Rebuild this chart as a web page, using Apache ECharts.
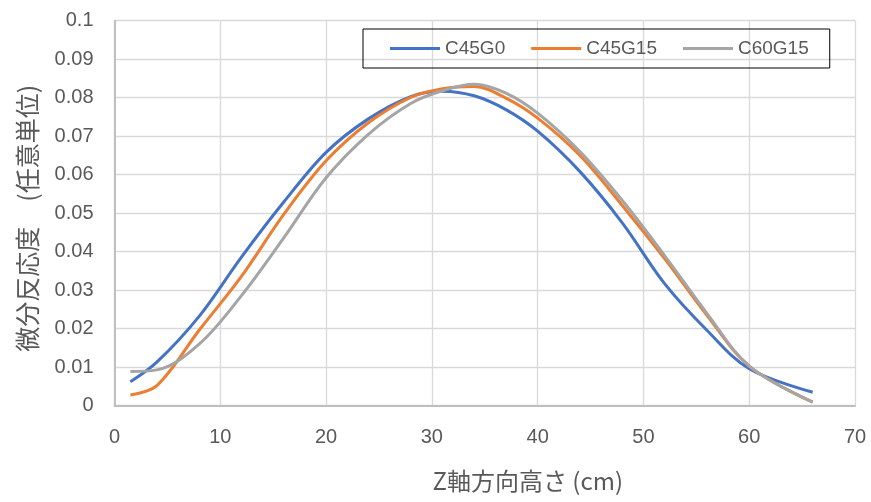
<!DOCTYPE html>
<html>
<head>
<meta charset="utf-8">
<script src="https://cdn.jsdelivr.net/npm/echarts@6/dist/echarts.min.js"></script>
<style>
html,body{margin:0;padding:0;background:#fff;}
#chart{width:871px;height:502px;}
</style>
</head>
<body>
<div id="chart"></div>
<script>
const seriesNames = ['C45G0', 'C45G15', 'C60G15'];
const zPositions = [1.5, 4, 8, 12, 16, 20, 24, 28, 31, 34, 37, 40, 44, 48, 52, 56, 60, 66];
const c45g0  = [0.0062, 0.0113, 0.0232, 0.0386, 0.0529, 0.0658, 0.0745, 0.0803, 0.0817, 0.0805, 0.0769, 0.0713, 0.0608, 0.0475, 0.0317, 0.0196, 0.0096, 0.0035];
const c45g15 = [0.0028, 0.0052, 0.0196, 0.0336, 0.0497, 0.0636, 0.0735, 0.0801, 0.0823, 0.0829, 0.0799, 0.0747, 0.0650, 0.0520, 0.0382, 0.0235, 0.0103, 0.0009];
const c60g15 = [0.0089, 0.0093, 0.0160, 0.0286, 0.0436, 0.0592, 0.0705, 0.0785, 0.0818, 0.0835, 0.0812, 0.0760, 0.0660, 0.0533, 0.0390, 0.0240, 0.0103, 0.0009];
const xTicks = [0, 10, 20, 30, 40, 50, 60, 70];
const yTicks = [0, 0.01, 0.02, 0.03, 0.04, 0.05, 0.06, 0.07, 0.08, 0.09, 0.1];
const colors = ['#4472C4', '#ED7D31', '#A5A5A5'];

const pair = arr => zPositions.map((x, i) => [x, arr[i]]);
const allValues = [c45g0, c45g15, c60g15];

const chart = echarts.init(document.getElementById('chart'), null, {renderer: 'canvas'});
const numFont = 'Liberation Sans, Arial, sans-serif';
const cjkFont = 'Noto Sans CJK JP, sans-serif';

chart.setOption({
  animation: false,
  backgroundColor: '#fff',
  grid: {left: 114.5, right: 16, top: 20.7, bottom: 96.3, containLabel: false},
  legend: {
    data: seriesNames,
    left: 363, top: 29,
    padding: [10, 21, 10, 27],
    itemWidth: 50, itemHeight: 3, itemGap: 26,
    icon: 'rect',
    borderColor: '#000', borderWidth: 1,
    textStyle: {fontSize: 19, color: '#595959', fontFamily: numFont}
  },
  xAxis: {
    type: 'value',
    min: xTicks[0], max: xTicks[xTicks.length - 1], interval: 10,
    name: 'Z軸方向高さ (cm)',
    nameLocation: 'middle',
    nameGap: 63,
    nameTextStyle: {fontSize: 24, color: '#595959', fontFamily: cjkFont, padding: [0, 0, 0, 86]},
    axisLine: {show: true, lineStyle: {color: '#BFBFBF', width: 2}},
    axisTick: {show: false},
    axisLabel: {fontSize: 20, color: '#595959', fontFamily: numFont, margin: 22},
    splitLine: {show: true, lineStyle: {color: '#D9D9D9', width: 1.3}}
  },
  yAxis: {
    type: 'value',
    min: yTicks[0], max: yTicks[yTicks.length - 1], interval: 0.01,
    name: '微分反応度　(任意単位)',
    nameLocation: 'middle',
    nameRotate: 90,
    nameGap: 74,
    nameTextStyle: {fontSize: 25, color: '#595959', fontFamily: cjkFont, padding: [0, 0, 0, -10]},
    axisLine: {show: true, lineStyle: {color: '#BFBFBF', width: 2}},
    axisTick: {show: false},
    axisLabel: {fontSize: 20, color: '#595959', fontFamily: numFont, margin: 21,
      formatter: v => String(+v.toFixed(2))},
    splitLine: {show: true, lineStyle: {color: '#D9D9D9', width: 1.3}}
  },
  series: seriesNames.map((name, i) => ({
    name,
    type: 'line',
    data: pair(allValues[i]),
    smooth: 0.35,
    symbol: 'none',
    lineStyle: {width: 3, color: colors[i]},
    itemStyle: {color: colors[i]}
  }))
});
</script>
</body>
</html>
